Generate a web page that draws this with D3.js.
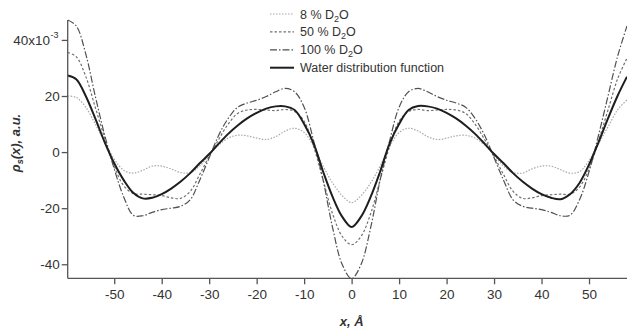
<!DOCTYPE html>
<html>
<head>
<meta charset="utf-8">
<script src="https://cdn.jsdelivr.net/npm/d3@7"></script>
<style>
body { margin:0; background:#fff; }
text { font-family: Arial, "Liberation Sans", sans-serif; fill:#333; }
</style>
</head>
<body>
<svg id="chart" width="627" height="331"></svg>
<script>
// x positions, Angstrom
var xs = [-59.8,-58,-56,-54,-52,-50,-48,-46,-44,-42,-40,-38,-36,-34,-32,-30,-28,-26,-24,-22,-20,-18,-16,-14,-12,-10,-8,-6,-4,-2,
          0,2,4,6,8,10,12,14,16,18,20,22,24,26,28,30,32,34,36,38,40,42,44,46,48,50,52,54,56,58];

// 8 % D2O
var d8 = [20,19.5,16,10,3.5,-2.5,-6.5,-7.5,-6.5,-5,-5,-6,-7.3,-7.3,-5,-1,2.5,5,6,5.8,5,4.5,5.5,7.5,8.5,7,2,-5,-11,-15.5,
          -18,-15.5,-11,-5,2,7,8.5,7.5,5.5,4.5,5,5.8,6,5,2.5,-1,-5,-7.3,-7.5,-6,-5,-5,-6.3,-7.5,-7,-3,3,9,15,18.6];
// 50 % D2O
var d50 = [35.5,34,27,16,5,-5,-12,-14.8,-15,-15.2,-15.5,-16.3,-16.5,-14,-8,-1.5,4.5,10,13.8,15,15.2,15,14.8,15.2,14.5,11,2,-10,-22,-30,
           -33,-30,-22,-10,2,11,14.5,15.2,14.8,15,15.2,15,13.8,10,4.5,-1.5,-8,-14,-16.5,-16.3,-15.5,-15.2,-15,-15,-12.5,-6,4,15,26,33.5];
// 100 % D2O
var d100 = [47.1,45,35,20,6,-6,-16,-22.5,-22.7,-21.5,-20.5,-20,-19.3,-17,-10,-2,6,12,16,17.5,18.5,19.8,21.5,22.7,21.5,16,4,-10,-27,-40,
            -45.1,-40,-27,-10,4,16,21.5,22.7,21.5,19.8,18.5,17.5,16,12,6,-2,-10,-17,-19.3,-20,-20.5,-21.5,-22.7,-22.5,-17,-7,6,20,34,45];
// water distribution function
var dw = [27.3,26,20,12,3.5,-4,-10,-14.5,-16.5,-16.3,-15,-13,-10.5,-7.5,-4,-0.7,3,6.5,9.5,12,14,15.5,16.3,16.3,15,10,3,-7,-16,-23,
          -26.7,-23,-16,-7,3,10,15,16.4,16.3,15.5,14,12,9.5,6.5,3,-0.7,-4,-7.5,-10.5,-13,-15,-16.3,-16.8,-15,-11,-4.5,3.5,12,20,26.9];

var xTicks = [-50,-40,-30,-20,-10,0,10,20,30,40,50];
var yTicks = [-40,-20,0,20,40];
var legendNames = ["8 % D", "50 % D", "100 % D", "Water distribution function"];

var series = [
  {vals:d8,   color:"#a8a8a8", width:1.2, dash:"1.5,1.5"},
  {vals:d50,  color:"#707070", width:1.2, dash:"2.5,2"},
  {vals:d100, color:"#505050", width:1.2, dash:"7,2,1.5,2"},
  {vals:dw,   color:"#1e1e1e", width:2,   dash:null}
];

var svg = d3.select("#chart");
var x = d3.scaleLinear().domain([-59.8, 58]).range([67.7, 627]);
var y = d3.scaleLinear().domain([-45, 47.1]).range([278.3, 20]);

svg.append("defs").append("clipPath").attr("id","clp")
  .append("rect").attr("x",67.7).attr("y",0).attr("width",627-67.7).attr("height",280);

var line = d3.line().curve(d3.curveCatmullRom.alpha(0.5));

var g = svg.append("g").attr("clip-path","url(#clp)");
series.forEach(function(s){
  var pts = xs.map(function(v,i){ return [x(v), y(s.vals[i])]; });
  g.append("path")
    .attr("d", line(pts))
    .attr("fill","none")
    .attr("stroke", s.color)
    .attr("stroke-width", s.width)
    .attr("stroke-dasharray", s.dash);
});

// axes
var xa = svg.append("g").attr("transform","translate(0,278.3)")
  .call(d3.axisBottom(x).tickValues(xTicks).tickSize(6).tickPadding(5).tickFormat(function(d){ return String(d); }));
var ya = svg.append("g").attr("transform","translate(67.7,0)")
  .call(d3.axisLeft(y).tickValues(yTicks).tickSize(6).tickPadding(2).tickFormat(function(d){ return d==40 ? "" : String(d); }));
[xa, ya].forEach(function(a){
  a.select(".domain").attr("stroke","#555").attr("stroke-width",1.3);
  a.selectAll(".tick line").attr("stroke","#555").attr("stroke-width",1.3);
  a.selectAll(".tick text").attr("font-size",13.5).attr("fill","#333")
    .style("font-family","Arial, 'Liberation Sans', sans-serif");
});
ya.select(".domain").attr("d","M0,20V278.3");
xa.select(".domain").attr("d","M67.7,0H627");

// 40x10^-3 label
svg.append("text").attr("x",50).attr("y",y(40)+5).attr("text-anchor","end").attr("font-size",13.5).text("40x10");
svg.append("text").attr("x",50.5).attr("y",y(40)-2).attr("font-size",9).text("-3");

// axis titles
svg.append("text").attr("x",x(0)).attr("y",326).attr("text-anchor","middle")
  .attr("font-size",13).attr("font-weight","bold").attr("font-style","italic").text("x, Å");

var yl = svg.append("text").attr("transform","translate(20,143) rotate(-90)")
  .attr("text-anchor","middle").attr("font-size",13).attr("font-weight","bold").attr("font-style","italic");
yl.append("tspan").text("ρ");
yl.append("tspan").attr("dy",3).attr("font-size",9).text("s");
yl.append("tspan").attr("dy",-3).text("(x), a.u.");

// legend
var lg = svg.append("g");
legendNames.forEach(function(name,i){
  var yy = 14 + i*17.9;
  var s = series[i];
  lg.append("line").attr("x1",270).attr("x2",294).attr("y1",yy).attr("y2",yy)
    .attr("stroke",s.color).attr("stroke-width",s.width).attr("stroke-dasharray",s.dash);
  var t = lg.append("text").attr("x",300).attr("y",yy+4.5).attr("font-size",12.5);
  t.append("tspan").text(name);
  if(i<3){
    t.append("tspan").attr("dy",3).attr("font-size",9).text("2");
    t.append("tspan").attr("dy",-3).text("O");
  }
});
</script>
</body>
</html>
